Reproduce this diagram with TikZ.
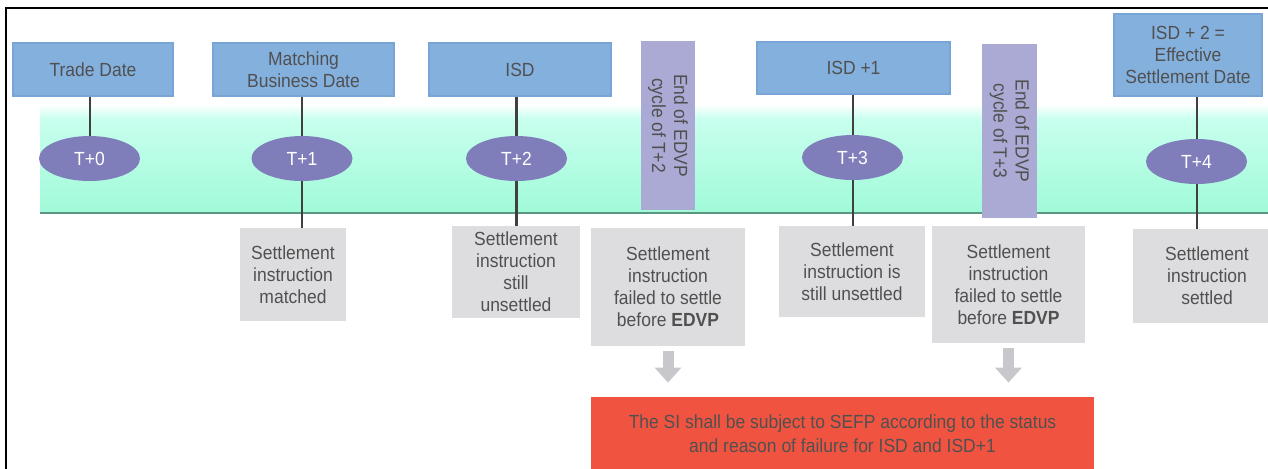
\documentclass[tikz,border=0pt]{standalone}
\usepackage{fontspec}
\setmainfont{Liberation Sans}[FakeStretch=0.92]
\usepackage{tikz}
\usetikzlibrary{arrows.meta,shapes.geometric}
\definecolor{datebl}{RGB}{132,176,222}
\definecolor{bluedge}{RGB}{120,164,214}
\definecolor{daypurple}{RGB}{128,126,186}
\definecolor{edvplav}{RGB}{170,170,212}
\definecolor{stategray}{RGB}{221,221,224}
\definecolor{txtgray}{RGB}{80,80,80}
\definecolor{linegray}{RGB}{64,64,64}
\definecolor{arrgray}{RGB}{200,200,204}
\definecolor{sefpred}{RGB}{240,84,64}
\definecolor{bandtop}{RGB}{200,255,238}
\definecolor{bandbot}{RGB}{160,250,216}
\definecolor{bandedge}{RGB}{90,150,130}
\newcommand {\stemline}[3][1pt] {\draw[stem, line width=#1] (#2) -- (#2 |- #3);}

\begin{document}
\begin{tikzpicture}[x=0.5pt, y=-0.5pt,
        every node/.style={font=\fontsize{9.5}{11}\selectfont, text=txtgray, inner sep=0pt, align=center},
        datebox/.style={draw=bluedge, fill=datebl, line width=0.6pt},
        dayell/.style={ellipse, fill=daypurple, text=white, minimum width=50.5pt, minimum height=22.5pt},
        edvpbar/.style={fill=edvplav, rotate=-90},
        statebox/.style={fill=stategray},
        sefpbox/.style={fill=sefpred},
        stem/.style={draw=linegray},
        blockarr/.style={arrgray, line width=5.5pt, -{Triangle[width=13pt, length=7.5pt]},
                         shorten <=2.5pt, shorten >=7pt}]
    \useasboundingbox (0,0) rectangle (1268,468);
    \clip (0,0) rectangle (1268,468);
    \draw[line width=1pt] (6,8) rectangle (1300,520);

    % time band
    \shade[top color=white, bottom color=bandtop] (40,104) rectangle (1300,119);
    \shade[top color=bandtop, bottom color=bandbot] (40,119) rectangle (1300,213);
    \draw[bandedge, line width=1pt] (40,213) -- (1300,213);

    \node[datebox, minimum width=80pt, minimum height=26.5pt] (trade) at (93,69.5) {Trade Date};
    \node[datebox, minimum width=90.5pt, minimum height=26.5pt] (match) at (303.5,69.5) {Matching\\Business Date};
    \node[datebox, minimum width=91pt, minimum height=26.5pt] (isd) at (520,69.5) {ISD};
    \node[datebox, minimum width=96.5pt, minimum height=26pt] (isdone) at (853.5,68) {ISD +1};
    \node[datebox, minimum width=74pt, minimum height=41pt] (isdtwo) at (1188,55) {ISD + 2 =\\Effective\\Settlement Date};

    \node[dayell] (t0) at (89.5,158.5) {T+0};
    \node[dayell] (t1) at (302,158.5) {T+1};
    \node[dayell] (t2) at (516.5,158.5) {T+2};
    \node[dayell] (t3) at (852.5,157.5) {T+3};
    \node[dayell] (t4) at (1196.5,161.5) {T+4};

    \node[edvpbar, minimum width=84.5pt, minimum height=27pt] (edvpa) at (668,125.5) {End of EDVP\\cycle of T+2};
    \node[edvpbar, minimum width=87pt, minimum height=27.5pt] (edvpb) at (1009.5,131) {End of EDVP\\cycle of T+3};

    \node[statebox, minimum width=53pt, minimum height=46.5pt] (gmatch) at (293,274.5) {Settlement\\instruction\\matched};
    \node[statebox, minimum width=64pt, minimum height=46pt] (gstill) at (516,272) {Settlement\\instruction\\still\\unsettled};
    \node[statebox, minimum width=77pt, minimum height=59pt] (gfaila) at (668,287) {Settlement\\instruction\\failed to settle\\before \textbf{EDVP}};
    \node[statebox, minimum width=73pt, minimum height=45.5pt] (gisstill) at (852,271.5) {Settlement\\instruction is\\still unsettled};
    \node[statebox, minimum width=76.5pt, minimum height=58.5pt] (gfailb) at (1008.5,284.5) {Settlement\\instruction\\failed to settle\\before \textbf{EDVP}};
    \node[statebox, minimum width=74pt, minimum height=47pt] (gdone) at (1207,276) {Settlement\\instruction\\settled};

    \node[sefpbox, minimum width=251.5pt, minimum height=37pt, font=\fontsize{9.5}{12}\selectfont] (sefp) at (842.5,434)
        {The SI shall be subject to SEFP according to the status\\and reason of failure for ISD and ISD+1};

    \stemline{t0.north}{trade.south}
    \stemline{t1.north}{match.south}
    \stemline{t1.south}{gmatch.north}
    \stemline[1.75pt]{t2.north}{isd.south}
    \stemline[1.75pt]{t2.south}{gstill.north}
    \stemline{t3.north}{isdone.south}
    \stemline{t3.south}{gisstill.north}
    \stemline{t4.north}{isdtwo.south}
    \stemline{t4.south}{gdone.north}

    \draw[blockarr] (gfaila) -- (gfaila |- sefp.north);
    \draw[blockarr] (gfailb) -- (gfailb |- sefp.north);
\end{tikzpicture}
\end{document}
